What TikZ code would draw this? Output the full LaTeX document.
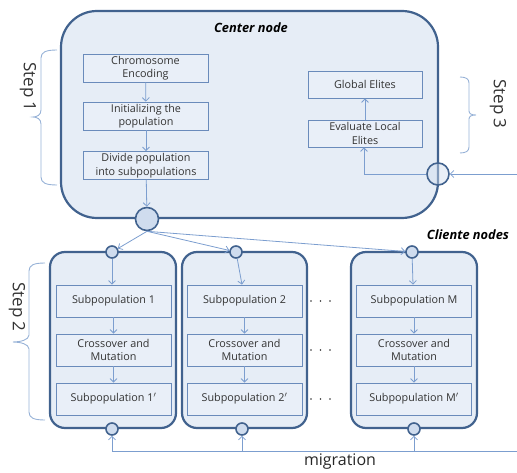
\documentclass[tikz,border=0pt]{standalone}
\usepackage{fontspec}
\setmainfont{Open Sans}
\usetikzlibrary{arrows.meta}
\definecolor{bfill}{HTML}{E6EDF6}
\definecolor{bdark}{HTML}{41628E}
\definecolor{ibord}{HTML}{6A8BBB}
\definecolor{ifill}{HTML}{E9EFF8}
\definecolor{arrc}{HTML}{7C9ECF}
\definecolor{brc}{HTML}{97B2D7}
\definecolor{txt}{HTML}{333333}
\definecolor{cfill}{HTML}{CFDCEE}
\begin{document}
\begin{tikzpicture}[x=1pt,y=-1pt,
  panel/.style={draw=bdark, line width=2.2pt, fill=bfill, inner sep=0pt},
  ibox/.style={draw=ibord, line width=0.8pt, fill=ifill, inner sep=0pt, text=txt,
    font=\fontsize{10.8}{13.5}\selectfont, align=center},
  cbox/.style={ibox, minimum width=125pt, minimum height=28pt},
  ebox/.style={ibox, minimum width=114pt, minimum height=27pt},
  sbox/.style={ibox, minimum width=115pt, minimum height=32pt},
  port/.style={circle, draw=bdark, line width=1.6pt, fill=cfill, inner sep=0pt},
  conn/.style={draw=arrc, line width=0.8pt},
  arrow/.style={conn, -{Straight Barb[length=3.5pt,width=7pt]}},
  brace/.style={draw=brc, line width=0.9pt},
  steplbl/.style={rotate=-90, font=\fontsize{17}{17}\selectfont, text=txt},
  title/.style={font=\fontsize{12.8}{13}\selectfont\bfseries\itshape, text=black}
]
\useasboundingbox (0,0) rectangle (517,473);

% center panel
\node[panel, rounded corners=36pt, minimum width=377pt, minimum height=207pt] (center) at (249.5,114.5) {};
\node[title] (ctitle) at (251,28) {Center node};

\node[cbox] (chrom) at (145.5,68) {Chromosome\\Encoding};
\node[cbox] (init) at (146,116) {Initializing the\\population};
\node[cbox] (divide) at (146,165.5) {Divide population\\into subpopulations};
\node[ebox] (glob) at (365,84.5) {Global Elites};
\node[ebox] (eval) at (365,133.5) {Evaluate Local\\Elites};

\node[port, minimum size=23pt] (cbot) at (147,219) {};
\node[port, minimum size=22pt, fill opacity=0.45, text opacity=1] (cright) at (438,174) {};

\draw[arrow] (chrom) -- (init);
\draw[arrow] (init) -- (divide);
\draw[arrow] (divide) -- (cbot);
\draw[arrow] (eval) -- (glob);

\coordinate (rin) at (517,174);
\coordinate (rk) at (364,174);
\draw[arrow] (rin) -- (cright);
\draw[arrow] (cright.west) -- (rk) -- (rk |- eval.south);

% client panels
\node[title] (cltitle) at (468,235) {Cliente nodes};

\node[panel, rounded corners=15pt, minimum width=126pt, minimum height=176pt] (p1) at (113,340) {};
\node[panel, rounded corners=15pt, minimum width=125pt, minimum height=176pt] (p2) at (244.5,340) {};
\node[panel, rounded corners=15pt, minimum width=126pt, minimum height=176pt] (p3) at (414,340) {};

\node[sbox] (s1a) at (113.5,301) {Subpopulation 1};
\node[sbox] (s1b) at (113.5,350) {Crossover and\\Mutation};
\node[sbox] (s1c) at (113.5,399) {Subpopulation 1$'$};
\node[sbox] (s2a) at (244.5,301) {Subpopulation 2};
\node[sbox] (s2b) at (244.5,350) {Crossover and\\Mutation};
\node[sbox] (s2c) at (244.5,399) {Subpopulation 2$'$};
\node[sbox] (s3a) at (414,301) {Subpopulation M};
\node[sbox] (s3b) at (414,350) {Crossover and\\Mutation};
\node[sbox] (s3c) at (414,399) {Subpopulation M$'$};

\node[port, minimum size=12pt] (t1) at (112,252) {};
\node[port, minimum size=12pt] (t2) at (236,252) {};
\node[port, minimum size=12pt] (t3) at (412,252) {};
\node[port, minimum size=12pt] (b1) at (112,429) {};
\node[port, minimum size=12pt] (b2) at (242,429) {};
\node[port, minimum size=12pt] (b3) at (414,429) {};

\draw[arrow] (cbot.south) -- (t1);
\draw[arrow] (cbot.south) -- (t2);
\draw[arrow] (cbot.south) -- (t3);

\draw[arrow] (t1) -- (s1a.north -| t1);
\draw[arrow] (t2) -- ([xshift=-2.5pt]s2a.north);
\draw[arrow] (t3) -- ([xshift=-1pt]s3a.north);
\draw[arrow] (s1a) -- (s1b);
\draw[arrow] (s1b) -- (s1c);
\draw[arrow] (s2a) -- (s2b);
\draw[arrow] (s2b) -- (s2c);
\draw[arrow] (s3a) -- (s3b);
\draw[arrow] (s3b) -- (s3c);

% dots
\foreach \yy in {301,350,399}
  \foreach \xx in {311,320.5,330}
    \fill[txt] (\xx,\yy) circle (0.9pt);

% migration
\coordinate (mR) at (517,451);
\coordinate (m1) at (112,451);
\coordinate (m2) at (242,451);
\coordinate (m3) at (414,451);
\draw[conn] (mR) -- (m1);
\draw[arrow] (m1) -- (b1);
\draw[arrow] (m2) -- (b2);
\draw[arrow] (m3) -- (b3);
\node[font=\fontsize{16}{16}\selectfont, text=black!85] (mig) at (340,462) {migration};

% braces
\draw[brace] (57,50) .. controls (46,50) and (41,52) .. (41,58) -- (41,110)
  .. controls (41,115) and (37,117) .. (33,117) .. controls (37,117) and (41,119) .. (41,124)
  -- (41,177) .. controls (41,183) and (46,185) .. (57,185);
\draw[brace] (45,263) .. controls (34,263) and (29,265) .. (29,271) -- (29,335)
  .. controls (29,340) and (20,342) .. (13,342) .. controls (20,342) and (29,344) .. (29,349)
  -- (29,412) .. controls (29,418) and (34,420) .. (45,420);
\draw[brace] (460,77) .. controls (466,77) and (469,79) .. (469,83) -- (469,111)
  .. controls (469,114) and (472,115) .. (476,115) .. controls (472,115) and (469,116) .. (469,119)
  -- (469,147) .. controls (469,151) and (466,153) .. (460,153);

\node[steplbl] (st1) at (28,87) {Step 1};
\node[steplbl] (st2) at (17,307) {Step 2};
\node[steplbl] (st3) at (498,104) {Step 3};
\end{tikzpicture}
\end{document}
